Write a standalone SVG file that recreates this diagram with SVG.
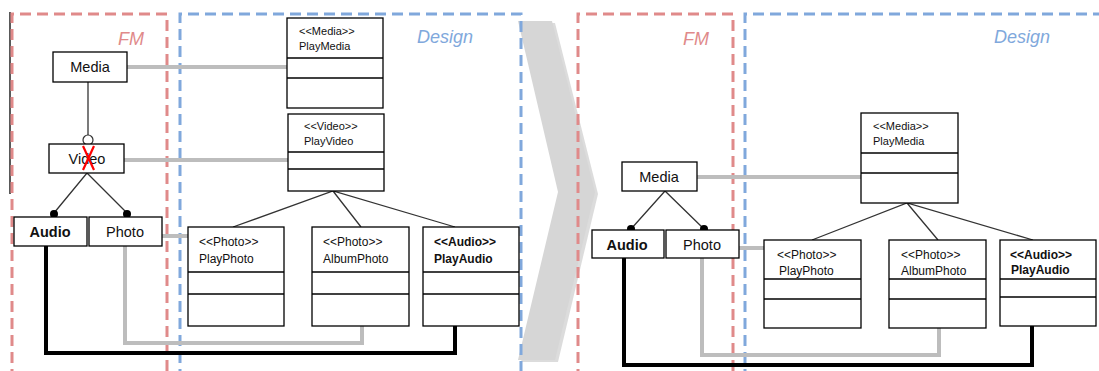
<svg xmlns="http://www.w3.org/2000/svg" width="1099" height="371" viewBox="0 0 1099 371">
<style>
.fm{fill:none;stroke:#e08a8a;stroke-width:3;stroke-dasharray:11 6}
.ds{fill:none;stroke:#80a8dc;stroke-width:3;stroke-dasharray:11 6}
.lblfm{font-family:"Liberation Sans",Arial,sans-serif;font-style:italic;font-size:18px;fill:#e08a8a}
.lblds{font-family:"Liberation Sans",Arial,sans-serif;font-style:italic;font-size:18px;fill:#80a8dc}
.box{fill:#fff;stroke:#000;stroke-width:1.3}
.ft{font-family:"Liberation Sans",Arial,sans-serif;font-size:14.5px;fill:#111;text-anchor:middle}
.ftb{font-weight:bold}
.ct{font-family:"Liberation Sans",Arial,sans-serif;font-size:11px;fill:#111}
.ct2{font-family:"Liberation Sans",Arial,sans-serif;font-size:12px;fill:#111}
.tree{fill:none;stroke:#333;stroke-width:1.3}
.gray{fill:none;stroke:#bdbdbd;stroke-width:4}
.blk{fill:none;stroke:#000;stroke-width:4}
</style>
<rect width="1099" height="371" fill="#fff"/>
<!-- chevron -->
<polygon points="521,23 555,23 598,194 558,362 521,362 561,194" fill="#c4c4c4" opacity="0.6"/>
<polygon points="518,21 552,21 595,192 555,360 518,360 558,192" fill="#d6d6d6"/>
<!-- left margin line -->
<line x1="10" y1="12" x2="10" y2="194" stroke="#000" stroke-width="1.3"/>
<!-- regions -->
<g id="regions">
<path class="fm" d="M12,380 V14 H167 V380"/>
<path class="ds" d="M180,380 V14 H521 V380"/>
<path class="fm" d="M578,380 V14 H733 V380"/>
<path class="ds" d="M745,380 V14 H1110"/>
<text class="lblfm" x="118" y="45">FM</text>
<text class="lblds" x="417" y="43">Design</text>
<text class="lblfm" x="683" y="45">FM</text>
<text class="lblds" x="994" y="43">Design</text>
</g>
<!-- connectors -->
<g id="connectors">
<line class="gray" x1="127" y1="67" x2="287" y2="67"/>
<line class="gray" x1="124" y1="160" x2="288" y2="160"/>
<line class="gray" x1="162" y1="236" x2="188" y2="236"/>
<path class="gray" d="M125,246 V343 H362 V326"/>
<path class="blk" d="M46,246 V353 H455 V326"/>
<line class="tree" x1="88" y1="82" x2="88" y2="135"/>
<path class="tree" d="M54,213 L87,173 L127,213"/>
<path class="tree" d="M233,227 L333,191 L455,227 M333,191 L361,227"/>
<line class="gray" x1="697" y1="177" x2="861" y2="177"/>
<line class="gray" x1="739" y1="248" x2="764" y2="248"/>
<path class="gray" d="M702,258 V355 H939 V328"/>
<path class="blk" d="M624,258 V365 H1032 V326"/>
<path class="tree" d="M631,229 L665,191 L704,229"/>
<path class="tree" d="M812,240 L907,203 L1033,240 M907,203 L938,240"/>
<circle cx="88" cy="140" r="5" fill="#fff" stroke="#333" stroke-width="1.2"/>
<circle cx="54" cy="214" r="4" fill="#000"/>
<circle cx="127" cy="214" r="4" fill="#000"/>
<circle cx="631" cy="229" r="4" fill="#000"/>
<circle cx="704" cy="229" r="4" fill="#000"/>
</g>
<!-- left FM nodes -->
<g id="fm-media-l"><rect class="box" x="53" y="52" width="74" height="30"/><text class="ft" x="90" y="72">Media</text></g>
<g id="fm-video-l"><rect class="box" x="49" y="144" width="75" height="29"/><text class="ft" x="87" y="164">Video</text>
<path d="M83,146 L94,170 M94,146 L83,170" stroke="#ff0000" stroke-width="2.2"/></g>
<g id="fm-audio-l"><rect class="box" x="14" y="217" width="73" height="29"/><text class="ft ftb" x="50" y="237">Audio</text></g>
<g id="fm-photo-l"><rect class="box" x="89" y="217" width="73" height="29"/><text class="ft" x="125" y="237">Photo</text></g>
<!-- left classes -->
<g id="cls-playmedia-l"><rect class="box" x="287" y="18" width="96" height="90"/><line class="box" x1="287" y1="58" x2="383" y2="58"/><line class="box" x1="287" y1="78" x2="383" y2="78"/>
<text class="ct" x="299" y="35">&lt;&lt;Media&gt;&gt;</text><text class="ct" x="299" y="50">PlayMedia</text></g>
<g id="cls-playvideo-l"><rect class="box" x="288" y="114" width="96" height="77"/><line class="box" x1="288" y1="152" x2="384" y2="152"/><line class="box" x1="288" y1="169" x2="384" y2="169"/>
<text class="ct" x="304" y="130">&lt;&lt;Video&gt;&gt;</text><text class="ct" x="304" y="145">PlayVideo</text></g>
<g id="cls-playphoto-l"><rect class="box" x="188" y="227" width="96" height="99"/><line class="box" x1="188" y1="272" x2="284" y2="272"/><line class="box" x1="188" y1="294" x2="284" y2="294"/>
<text class="ct2" x="199" y="246">&lt;&lt;Photo&gt;&gt;</text><text class="ct2" x="199" y="263">PlayPhoto</text></g>
<g id="cls-albumphoto-l"><rect class="box" x="312" y="227" width="97" height="99"/><line class="box" x1="312" y1="272" x2="409" y2="272"/><line class="box" x1="312" y1="294" x2="409" y2="294"/>
<text class="ct2" x="323" y="246">&lt;&lt;Photo&gt;&gt;</text><text class="ct2" x="323" y="263">AlbumPhoto</text></g>
<g id="cls-playaudio-l"><rect class="box" x="423" y="227" width="96" height="99"/><line class="box" x1="423" y1="272" x2="519" y2="272"/><line class="box" x1="423" y1="294" x2="519" y2="294"/>
<text class="ct2" x="434" y="246" font-weight="bold">&lt;&lt;Audio&gt;&gt;</text><text class="ct2" x="434" y="263" font-weight="bold">PlayAudio</text></g>
<!-- right FM nodes -->
<g id="fm-media-r"><rect class="box" x="622" y="162" width="75" height="29"/><text class="ft" x="659" y="182">Media</text></g>
<g id="fm-audio-r"><rect class="box" x="592" y="230" width="72" height="28"/><text class="ft ftb" x="627" y="250">Audio</text></g>
<g id="fm-photo-r"><rect class="box" x="666" y="230" width="73" height="28"/><text class="ft" x="702" y="250">Photo</text></g>
<!-- right classes -->
<g id="cls-playmedia-r"><rect class="box" x="861" y="113" width="97" height="90"/><line class="box" x1="861" y1="153" x2="958" y2="153"/><line class="box" x1="861" y1="173" x2="958" y2="173"/>
<text class="ct" x="873" y="130">&lt;&lt;Media&gt;&gt;</text><text class="ct" x="873" y="145">PlayMedia</text></g>
<g id="cls-playphoto-r"><rect class="box" x="764" y="240" width="97" height="88"/><line class="box" x1="764" y1="279" x2="861" y2="279"/><line class="box" x1="764" y1="299" x2="861" y2="299"/>
<text class="ct2" x="777" y="259">&lt;&lt;Photo&gt;&gt;</text><text class="ct2" x="779" y="275">PlayPhoto</text></g>
<g id="cls-albumphoto-r"><rect class="box" x="889" y="240" width="97" height="88"/><line class="box" x1="889" y1="279" x2="986" y2="279"/><line class="box" x1="889" y1="299" x2="986" y2="299"/>
<text class="ct2" x="901" y="259">&lt;&lt;Photo&gt;&gt;</text><text class="ct2" x="901" y="275">AlbumPhoto</text></g>
<g id="cls-playaudio-r"><rect class="box" x="1000" y="240" width="96" height="86"/><line class="box" x1="1000" y1="279" x2="1096" y2="279"/><line class="box" x1="1000" y1="297" x2="1096" y2="297"/>
<text class="ct2" x="1010" y="259" font-weight="bold">&lt;&lt;Audio&gt;&gt;</text><text class="ct2" x="1011" y="274" font-weight="bold">PlayAudio</text></g>
</svg>
